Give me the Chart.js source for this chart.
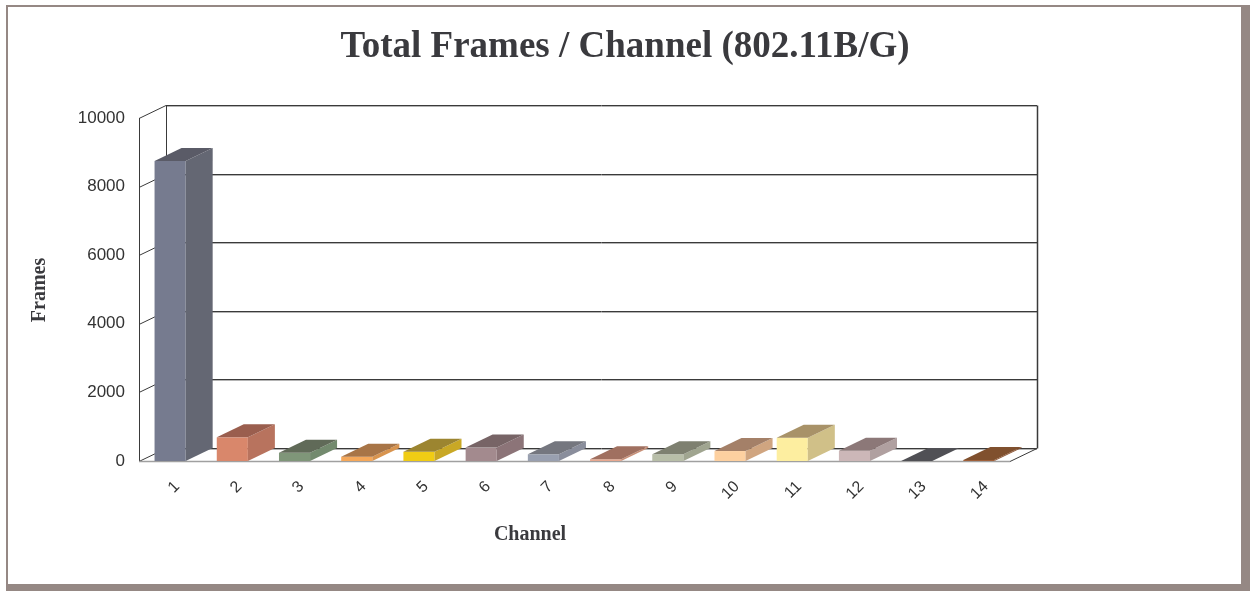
<!DOCTYPE html>
<html>
<head>
<meta charset="utf-8">
<script src="https://cdn.jsdelivr.net/npm/chart.js@4/dist/chart.umd.min.js"></script>
<style>
  html, body { margin: 0; padding: 0; background: #fff; }
  #frame {
    position: absolute; left: 6px; top: 5px;
    width: 1233px; height: 577px;
    border-style: solid; border-color: #958884;
    border-width: 2px 9px 7px 2px;
    background: #fff;
  }
  #c { display: block; }
</style>
</head>
<body>
<div id="frame"><canvas id="c" width="1233" height="577"></canvas></div>
<script>
const channels = ['1', '2', '3', '4', '5', '6', '7', '8', '9', '10', '11', '12', '13', '14'];
const frames = [8750, 690, 240, 125, 270, 390, 195, 50, 195, 290, 680, 300, 0, 30];
const yTicks = [0, 2000, 4000, 6000, 8000, 10000];

const frontColors = ['#767b8f', '#d9876b', '#7f9679', '#f5a85a', '#f0cc14', '#a38a8e', '#99a0b0',
                     '#e8a890', '#b8bea8', '#fdd0a0', '#fdeea0', '#ccb7b8', '#5a5a60', '#a0603a'];
const sideColors = ['#646773', '#b8735e', '#738a6e', '#d8944f', '#c9a825', '#8c7478', '#8a8e9c',
                    '#c89078', '#a0a590', '#d0a580', '#d0c088', '#b0a0a0', '#4e4e54', '#8c5434'];
const topColors = ['#5a5b67', '#9a5e4e', '#606a58', '#a87547', '#9c8530', '#776466', '#75777f',
                   '#a07060', '#7e8070', '#a48068', '#a89268', '#8c7878', '#505055', '#80502e'];

const DX = 27, DY = -13;

function line(ctx, x1, y1, x2, y2, color, w) {
    ctx.beginPath();
    ctx.strokeStyle = color;
    ctx.lineWidth = w || 1;
    ctx.moveTo(x1, y1);
    ctx.lineTo(x2, y2);
    ctx.stroke();
}

// back wall, floor and left wall behind the bars
const wallPlugin = {
    id: 'wall',
    beforeDatasetsDraw(chart) {
        const ctx = chart.ctx;
        const a = chart.chartArea;
        const y = chart.scales.y;
        ctx.save();
        yTicks.forEach(v => {
            const py = Math.round(y.getPixelForValue(v)) + 0.5;
            line(ctx, a.left + DX, py + DY + 1, a.right + DX, py + DY + 1, '#b4b4b4');
            line(ctx, a.left + DX, py + DY, a.right + DX, py + DY, '#3a3a3a');
            line(ctx, a.left, py, a.left + DX, py + DY, '#3a3a3a');
        });
        const top = Math.round(y.getPixelForValue(10000)) + 0.5;
        const bot = Math.round(y.getPixelForValue(0)) + 0.5;
        line(ctx, a.left + DX + 0.5, top + DY, a.left + DX + 0.5, bot + DY, '#3a3a3a');
        line(ctx, a.right + DX + 0.5, top + DY, a.right + DX + 0.5, bot + DY, '#3a3a3a', 1.5);
        line(ctx, a.right, bot, a.right + DX, bot + DY, '#3a3a3a');
        line(ctx, a.left, bot, a.right, bot, '#a0a0a0', 1.5);
        ctx.restore();
    },
    afterDatasetsDraw(chart) {
        const ctx = chart.ctx;
        const meta = chart.getDatasetMeta(0);
        ctx.save();
        meta.data.forEach((bar, i) => {
            const p = bar.getProps(['x', 'y', 'base', 'width'], true);
            const l = p.x - p.width / 2, r = p.x + p.width / 2;
            ctx.fillStyle = sideColors[i];
            ctx.beginPath();
            ctx.moveTo(r, p.y);
            ctx.lineTo(r + DX, p.y + DY);
            ctx.lineTo(r + DX, p.base + DY);
            ctx.lineTo(r, p.base);
            ctx.closePath();
            ctx.fill();
            ctx.fillStyle = topColors[i];
            ctx.beginPath();
            ctx.moveTo(l, p.y);
            ctx.lineTo(l + DX, p.y + DY);
            ctx.lineTo(r + DX, p.y + DY);
            ctx.lineTo(r, p.y);
            ctx.closePath();
            ctx.fill();
        });
        ctx.restore();
    },
    afterDraw(chart) {
        const ctx = chart.ctx;
        const x = chart.scales.x;
        ctx.save();
        ctx.fillStyle = '#333';
        ctx.font = '16px "Liberation Sans", Arial, sans-serif';
        ctx.textAlign = 'right';
        ctx.textBaseline = 'middle';
        channels.forEach((c, i) => {
            const px = x.getPixelForTick(i);
            ctx.save();
            ctx.translate(px + 7, 477);
            ctx.rotate(-Math.PI / 4);
            ctx.fillText(c, 0, 0);
            ctx.restore();
        });
        ctx.fillStyle = '#3a3a3e';
        ctx.textAlign = 'center';
        ctx.textBaseline = 'alphabetic';
        ctx.font = 'bold 37px "Liberation Serif", "Times New Roman", serif';
        ctx.fillText('Total Frames / Channel (802.11B/G)', 617, 50);
        ctx.font = 'bold 20px "Liberation Serif", "Times New Roman", serif';
        ctx.fillText('Channel', 522, 533);
        ctx.save();
        ctx.translate(37, 283);
        ctx.rotate(-Math.PI / 2);
        ctx.fillText('Frames', 0, 0);
        ctx.restore();
        ctx.restore();
    }
};

new Chart(document.getElementById('c'), {
    type: 'bar',
    data: {
        labels: channels,
        datasets: [{
            label: 'Frames',
            data: frames,
            backgroundColor: frontColors,
            borderWidth: 0,
            categoryPercentage: 1,
            barPercentage: 0.5
        }]
    },
    options: {
        responsive: false,
        animation: false,
        layout: { padding: { top: 111, right: 231, left: 0, bottom: 0 } },
        plugins: { legend: { display: false }, tooltip: { enabled: false } },
        scales: {
            x: {
                grid: { display: false },
                border: { display: false },
                ticks: { display: false },
                afterFit(scale) { scale.height = 123; }
            },
            y: {
                min: 0,
                max: 10000,
                afterBuildTicks(scale) { scale.ticks = yTicks.map(v => ({ value: v })); },
                grid: { display: false },
                border: { display: true, color: '#3a3a3a', width: 1 },
                ticks: {
                    padding: 6,
                    color: '#333',
                    font: { family: '"Liberation Sans", Arial, sans-serif', size: 17 },
                    callback: v => String(v)
                },
                afterFit(scale) { scale.width = 131; }
            }
        }
    },
    plugins: [wallPlugin]
});
</script>
</body>
</html>
